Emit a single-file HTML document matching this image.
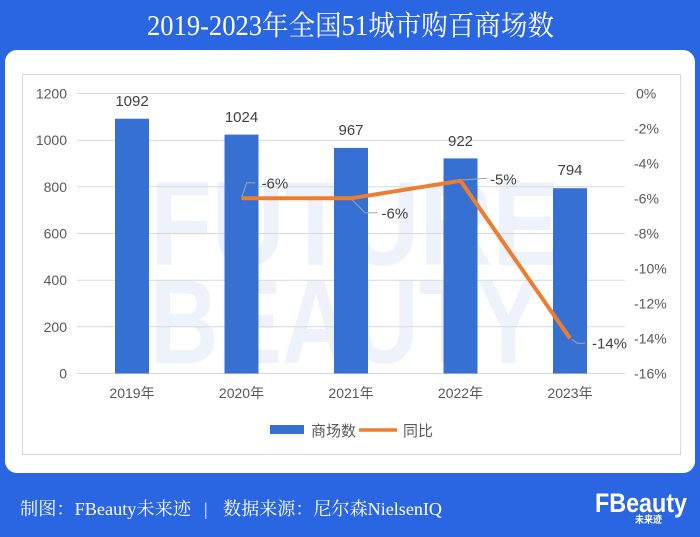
<!DOCTYPE html>
<html><head><meta charset="utf-8"><style>
html,body{margin:0;padding:0;background:#2a66e2;}
svg{display:block;}
</style></head><body>
<svg width="700" height="537" viewBox="0 0 700 537" xmlns="http://www.w3.org/2000/svg">
<rect x="0" y="0" width="700" height="537" fill="#2a66e2"/>
<text x="147" y="35" textLength="407" lengthAdjust="spacingAndGlyphs" fill="#fff" font-family="'Liberation Serif','Noto Serif CJK SC',serif" font-size="28">2019-2023年全国51城市购百商场数</text>
<rect x="5" y="50" width="690" height="423" rx="12" ry="12" fill="#fff"/>
<rect x="22.5" y="74.5" width="658" height="380" fill="#fff" stroke="#d9d9d9" stroke-width="1"/>
<!-- watermark -->
<g fill="#eef2fb" font-family="'Liberation Sans',sans-serif" font-weight="bold" font-size="120">
<text x="150" y="265" textLength="410" lengthAdjust="spacingAndGlyphs">FUTURE</text>
<text x="150" y="363" textLength="390" lengthAdjust="spacingAndGlyphs">BEAUTY</text>
</g>
<!-- gridlines -->
<g stroke="#d9d9d9" stroke-width="1">
<line x1="77" x2="625" y1="93.5" y2="93.5"/>
<line x1="77" x2="625" y1="140.2" y2="140.2"/>
<line x1="77" x2="625" y1="186.8" y2="186.8"/>
<line x1="77" x2="625" y1="233.5" y2="233.5"/>
<line x1="77" x2="625" y1="280.2" y2="280.2"/>
<line x1="77" x2="625" y1="326.8" y2="326.8"/>
<line x1="77" x2="625" y1="373.5" y2="373.5"/>
</g>
<!-- left axis labels -->
<g fill="#595959" font-family="'Liberation Sans',sans-serif" font-size="14" text-anchor="end">
<text x="67" y="98.5">1200</text>
<text x="67" y="145.2">1000</text>
<text x="67" y="191.8">800</text>
<text x="67" y="238.5">600</text>
<text x="67" y="285.2">400</text>
<text x="67" y="331.8">200</text>
<text x="67" y="378.5">0</text>
</g>
<!-- right axis labels -->
<g fill="#595959" font-family="'Liberation Sans',sans-serif" font-size="14">
<text x="636" y="98.5">0%</text>
<text x="634" y="133.5">-2%</text>
<text x="634" y="168.5">-4%</text>
<text x="634" y="203.5">-6%</text>
<text x="634" y="238.5">-8%</text>
<text x="634" y="273.5">-10%</text>
<text x="634" y="308.5">-12%</text>
<text x="634" y="343.5">-14%</text>
<text x="634" y="378.5">-16%</text>
</g>
<!-- bars -->
<g fill="#3570d2">
<rect x="115" y="118.7" width="34" height="254.8"/>
<rect x="224.5" y="134.6" width="34" height="238.9"/>
<rect x="334" y="147.9" width="34" height="225.6"/>
<rect x="443.5" y="158.4" width="34" height="215.1"/>
<rect x="553" y="188.2" width="34" height="185.3"/>
</g>
<!-- bar labels -->
<g fill="#404040" font-family="'Liberation Sans',sans-serif" font-size="15" text-anchor="middle">
<text x="132" y="106">1092</text>
<text x="241.5" y="122">1024</text>
<text x="351" y="135">967</text>
<text x="460.5" y="146">922</text>
<text x="570" y="175">794</text>
</g>
<!-- x labels -->
<g fill="#595959" font-family="'Liberation Sans','Noto Sans CJK SC',sans-serif" font-size="14" text-anchor="middle">
<text x="132" y="398">2019年</text>
<text x="241.5" y="398">2020年</text>
<text x="351" y="398">2021年</text>
<text x="460.5" y="398">2022年</text>
<text x="570" y="398">2023年</text>
</g>
<!-- leader lines -->
<g fill="none" stroke="#a6a6a6" stroke-width="1">
<polyline points="241.7,197 246.7,182.7 255,182.7"/>
<polyline points="351.7,199.3 365,212.7 377,212.7"/>
<polyline points="461,180 487,178.3"/>
<polyline points="571.7,339 577,343.3 585,343.3"/>
</g>
<!-- line -->
<polyline points="241.5,198.3 351,198.3 460.5,180.8 570,338.3" fill="none" stroke="#ed7d31" stroke-width="4" stroke-linejoin="round"/>
<!-- pct labels -->
<g fill="#404040" font-family="'Liberation Sans',sans-serif" font-size="15">
<text x="261.5" y="188.5">-6%</text>
<text x="381.5" y="218.5">-6%</text>
<text x="490" y="184.5">-5%</text>
<text x="592" y="348.5">-14%</text>
</g>
<!-- legend -->
<rect x="270" y="425" width="34" height="9" fill="#3570d2"/>
<text x="311" y="436" fill="#595959" font-family="'Liberation Sans','Noto Sans CJK SC',sans-serif" font-size="15">商场数</text>
<line x1="359" x2="397" y1="430" y2="430" stroke="#ed7d31" stroke-width="3.5"/>
<text x="403" y="436" fill="#595959" font-family="'Liberation Sans','Noto Sans CJK SC',sans-serif" font-size="15">同比</text>
<!-- footer -->
<g fill="#fff" font-family="'Liberation Serif','Noto Serif CJK SC',serif" font-size="18">
<text x="20" y="515" textLength="171" lengthAdjust="spacingAndGlyphs">制图：FBeauty未来迹</text>
<text x="204" y="515">|</text>
<text x="223" y="515" textLength="219" lengthAdjust="spacingAndGlyphs">数据来源：尼尔森NielsenIQ</text>
</g>
<!-- logo -->
<text x="595" y="512" textLength="92" lengthAdjust="spacingAndGlyphs" fill="#fff" font-family="'Liberation Sans',sans-serif" font-weight="bold" font-size="27">FBeauty</text>
<text x="635" y="523" textLength="27" lengthAdjust="spacingAndGlyphs" fill="#fff" font-family="'Noto Sans CJK SC',sans-serif" font-weight="bold" font-size="10">未来迹</text>
</svg>
</body></html>
